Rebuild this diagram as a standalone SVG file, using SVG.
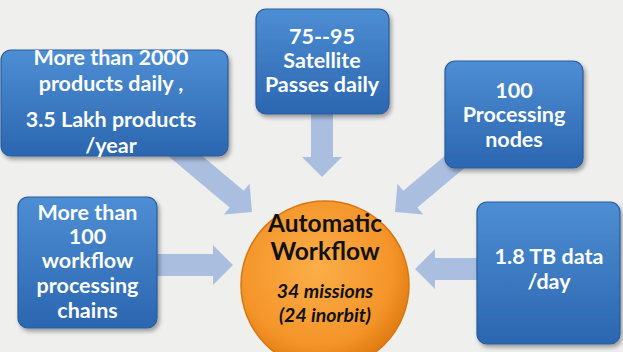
<svg xmlns="http://www.w3.org/2000/svg" width="623" height="352" viewBox="0 0 623 352">
<defs>
  <linearGradient id="boxg" x1="0" y1="0" x2="0" y2="1">
    <stop offset="0" stop-color="#4d8ed4"/>
    <stop offset="1" stop-color="#2b66b0"/>
  </linearGradient>
  <radialGradient id="circg" cx="0.45" cy="0.4" r="0.6">
    <stop offset="0" stop-color="#fbae48"/>
    <stop offset="0.75" stop-color="#f4952a"/>
    <stop offset="1" stop-color="#e07c12"/>
  </radialGradient>
  <filter id="sh" x="-10%" y="-10%" width="125%" height="125%">
    <feDropShadow dx="2" dy="3" stdDeviation="2" flood-color="#000" flood-opacity="0.35"/>
  </filter>
  <path id="arr" d="M-120,-11 L-20,-11 L-20,-20 L0,0 L-20,20 L-20,11 L-120,11 Z"/>
</defs>
<style>
  .box { fill: url(#boxg); stroke: #2a5c9c; stroke-width: 1.2; filter: url(#sh); }
  .t { font-family: Lato, "Open Sans", "Liberation Sans", sans-serif; font-weight: 700; font-size: 21.5px; fill: #ffffff; text-anchor: middle; }
  .c { font-family: Lato, "Open Sans", "Liberation Sans", sans-serif; font-weight: 700; fill: #111111; text-anchor: middle; }
  .a { fill: #aabfe0; }
</style>
<rect x="0" y="0" width="623" height="352" fill="#efefed"/>

<g id="connectors">
  <use href="#arr" class="a" transform="translate(252,212) rotate(40)"/>
  <use href="#arr" class="a" transform="translate(322,177) rotate(90)"/>
  <use href="#arr" class="a" transform="translate(395,212) rotate(140)"/>
  <use href="#arr" class="a" transform="translate(233,265)"/>
  <use href="#arr" class="a" transform="translate(415,269) rotate(180)"/>
</g>

<g id="box-products">
  <rect class="box" x="1" y="50" width="227" height="106" rx="10"/>
  <text class="t" x="111" y="65">More than 2000</text>
  <text class="t" x="111" y="91">products daily ,</text>
  <text class="t" x="111" y="127">3.5 Lakh products</text>
  <text class="t" x="111" y="153">/year</text>
</g>

<g id="box-satellite">
  <rect class="box" x="256" y="9" width="133" height="105" rx="10"/>
  <text class="t" x="322" y="44">75--95</text>
  <text class="t" x="322" y="68">Satellite</text>
  <text class="t" x="322" y="92">Passes daily</text>
</g>

<g id="box-nodes">
  <rect class="box" x="445" y="61" width="138" height="107" rx="10"/>
  <text class="t" x="514" y="98">100</text>
  <text class="t" x="514" y="122">Processing</text>
  <text class="t" x="514" y="147">nodes</text>
</g>

<g id="box-chains">
  <rect class="box" x="18" y="197" width="139" height="131" rx="10"/>
  <text class="t" x="87.5" y="220">More than</text>
  <text class="t" x="87.5" y="244">100</text>
  <text class="t" x="87.5" y="268">workflow</text>
  <text class="t" x="87.5" y="293">processing</text>
  <text class="t" x="87.5" y="318">chains</text>
</g>

<g id="box-data">
  <rect class="box" x="477" y="202" width="143" height="142" rx="10"/>
  <text class="t" x="549" y="264">1.8 TB data</text>
  <text class="t" x="549" y="289">/day</text>
</g>

<g id="node-workflow">
  <circle cx="325" cy="285" r="84" fill="url(#circg)" stroke="#d9760e" stroke-width="1.5"/>
  <text class="c" x="325" y="232" font-size="24.5">Automatic</text>
  <text class="c" x="325" y="260" font-size="24.5">Workflow</text>
  <text class="c" x="325" y="298" font-size="19.5" font-style="italic">34 missions</text>
  <text class="c" x="325" y="322" font-size="19.5" font-style="italic">(24 inorbit)</text>
</g>
</svg>
